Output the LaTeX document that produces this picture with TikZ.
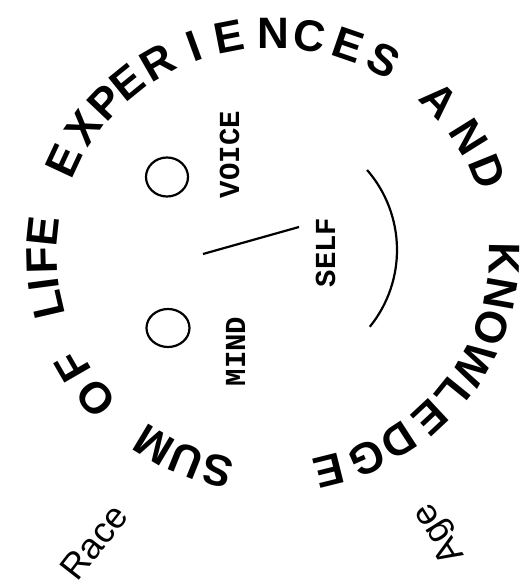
\documentclass[tikz,border=0pt]{standalone}
\usepackage{fontspec}
\setmainfont{Liberation Sans}
\newfontfamily\typefont{Liberation Mono}

\begin{document}
\begin{tikzpicture}[x=1pt, y=1pt,
    arcletter/.style={inner sep=0pt, font=\fontsize{44}{44}\selectfont\bfseries},
    facetext/.style={inner sep=0pt, rotate=90, font=\typefont\fontsize{29}{29}\selectfont\bfseries},
    sidelabel/.style={inner sep=0pt, font=\fontsize{36}{36}\selectfont},
    facestroke/.style={line width=2.2pt}
]
\fill[white] (-273,-331) rectangle (252,255);
\useasboundingbox (-273,-331) rectangle (252,255);

% Ring of words round the face
\foreach \ch/\ang [count=\i] in {S/256, U/248, M/239, O/220, F/210,
    L/193, I/187.5, F/181.5, E/174,
    E/155, X/145, P/136.5, E/129, R/120, I/110, E/101, N/90, C/81, E/71, S/61.5,
    A/44, N/32, D/22,
    K/-1, N/-10, O/-19, W/-29.5, L/-39, E/-47, D/-57, G/-66, E/-76}
    \node[arcletter, rotate=\ang-90] (ring\i) at (\ang:231 and 222) {\ch};

% Eyes
\draw[facestroke] (-106,78) ellipse [x radius=21, y radius=19.5];
\draw[facestroke] (-105,-73) ellipse [x radius=21.5, y radius=19];

% Nose and mouth
\draw[facestroke] (-70,1) -- (26,28);
\draw[facestroke] (2,5) ++(41:122) arc[start angle=41, end angle=-39, radius=122];

% Inner words
\node[facetext] (voice) at (-43.5,100.5) {VOICE};
\node[facetext] (self) at (52.5,2.5) {SELF};
\node[facetext] (mind) at (-37.5,-96.5) {MIND};

% Outer labels
\node[sidelabel, rotate=52] (race) at (-179,-287) {Race};
\node[sidelabel, rotate=122] (age) at (167,-278) {Age};

\end{tikzpicture}
\end{document}
